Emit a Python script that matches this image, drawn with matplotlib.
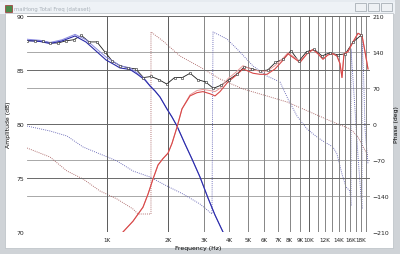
import matplotlib.pyplot as plt
from matplotlib.patches import Rectangle

W, H = 400, 255

# measured total response (markers), Hz / dB
total_freq = [400, 437, 478, 522, 570, 623, 681, 744, 813, 888, 970, 1060, 1158, 1265,
              1382, 1510, 1650, 1803, 1970, 2152, 2352, 2569, 2807, 3067, 3351, 3662,
              4001, 4371, 4776, 5218, 5701, 6229, 6806, 7436, 8125, 8877, 9699, 10597,
              11578, 12650, 13822, 15101, 16500, 18028]
total_db = [87.7, 87.7, 87.7, 87.5, 87.5, 87.7, 87.8, 88.2, 87.6, 87.6, 86.7, 85.8, 85.4, 85.2,
            85.1, 84.3, 84.4, 84.1, 83.7, 84.3, 84.3, 84.7, 84.1, 83.9, 83.3, 83.6,
            84.1, 84.6, 85.3, 85.1, 84.9, 85.0, 85.7, 86.0, 86.8, 85.8, 86.7, 86.9,
            86.3, 86.6, 86.4, 86.5, 87.6, 88.2]

# woofer amplitude
woofer_freq = [400, 464, 520, 596, 692, 784, 879, 985, 1092, 1155, 1295, 1402, 1536, 1627,
               1722, 1823, 1974, 2090, 2213, 2425, 2626, 2877, 3152, 3414, 3740, 4052]
woofer_db = [87.73, 87.64, 87.45, 87.69, 88.15, 87.59, 86.76, 85.93, 85.46, 85.19, 85.05, 84.63,
             84.07, 83.52, 83.06, 82.5, 81.39, 80.65, 79.81, 78.15, 76.76, 75.09, 73.15, 71.57,
             70.0, 68.43]
woofer2_db = [87.85, 87.75, 87.55, 87.8, 88.3, 87.8, 87.0, 86.2, 85.7, 85.4, 85.2, 84.75,
              84.15, 83.55, 83.06, 82.5, 81.39, 80.65, 79.81, 78.15, 76.76, 75.09, 73.15, 71.57,
              70.0, 68.43]

# tweeter amplitude
tweeter_freq = [1100, 1195, 1340, 1502, 1590, 1683, 1782, 1887, 1998, 2090, 2213, 2343, 2567,
                2780, 2977, 3225, 3414, 3614, 3959, 4338, 4699, 5265, 5704, 6178, 6767, 7330,
                7850, 8405, 9000, 9747, 10440, 11050, 11700, 12380, 13110, 13720, 14200,
                14530, 14870, 15560, 16480, 17440, 18250, 18890, 19550]
tweeter_db = [68.6, 70.0, 71.0, 72.3, 73.5, 74.9, 76.2, 76.8, 77.3, 78.2, 79.7, 81.4, 82.6,
              82.9, 83.0, 82.8, 82.6, 83.0, 83.9, 84.5, 85.1, 84.7, 84.6, 84.6, 85.1, 85.8,
              86.5, 86.1, 85.7, 86.5, 86.9, 86.5, 86.0, 86.4, 86.5, 86.3, 85.6,
              84.3, 86.5, 86.7, 87.6, 88.4, 88.2, 86.7, 85.1]
tweeter2_db = [68.6, 70.0, 71.0, 72.3, 73.5, 74.9, 76.2, 76.8, 77.3, 78.2, 79.7, 81.4, 82.7,
               83.1, 83.2, 83.1, 83.0, 83.3, 84.2, 84.8, 85.4, 85.0, 84.9, 84.9, 85.4, 86.0,
               86.6, 86.2, 85.8, 86.5, 86.9, 86.5, 86.0, 86.4, 86.5, 86.3, 85.6,
               84.3, 86.5, 86.7, 87.6, 88.4, 88.2, 86.7, 85.1]

# tweeter phase (deg)
tw_phase_freq = [400, 520, 631, 758, 920, 1117, 1340, 1419, 1645, 1645, 1887, 2290, 2877,
                 3614, 4699, 6178, 7760, 10090, 13110, 14700, 15920, 16500, 17440, 18250, 19550]
tw_phase = [-46.7, -64.2, -91.4, -106.9, -130.3, -145.8, -165.3, -175, -175, 178.9, 161.4,
            132.2, 110.8, 87.5, 68.1, 54.4, 42.8, 23.3, 3.9, -3.9, -9.7, -15, -25, -40, -62]

# woofer phase (deg)
wf_phase_freq = [400, 520, 631, 758, 920, 1117, 1340, 1627, 1974, 2370, 2877, 3299, 3337,
                 3914, 4541, 5265, 6178, 7164, 7850, 8697, 9747, 10930, 11700, 13110, 13720,
                 14530, 15210, 15920, 16100, 16100, 16850, 17440, 18250, 18250, 18600, 18890,
                 19550]
wf_phase = [-3.9, -13.6, -23.3, -44.7, -58.3, -71.9, -91.4, -103.1, -120.6, -136.1, -155.6,
            -175, 178.9, 165.3, 140, 112.8, 93.3, 81.7, 48.6, 15.6, -9.7, -25.3, -33.1, -44.7,
            -58.3, -97.2, -122.5, -130.3, -159.4, 145.8, 29.2, -62.2, -165.3, 165.3, 93.3,
            -9.7, -77.8]

grid_freqs = [1000, 2000, 3000, 4000, 5000, 6000, 7000, 8000, 9000, 10000, 11000, 12000,
              13000, 14000, 15000, 16000, 17000, 18000, 19000]
grid_labels = ["1K", "2K", "3K", "4K", "5K", "6K", "7K", "8K", "9K", "10K", "", "12K",
               "", "14K", "", "16K", "", "18K", ""]


def px_rect(fig, x, y, w, h, **kw):
    fig.patches.append(Rectangle((x / W, 1 - (y + h) / H), w / W, h / H,
                                 transform=fig.transFigure, zorder=-10, **kw))


fig = plt.figure(figsize=(W / 100, H / 100), dpi=100)
fig.patch.set_facecolor("#cfd3d7")

# window chrome
px_rect(fig, 0, 0, 395, 15, facecolor="#e6ebf0", edgecolor="none")
px_rect(fig, 0, 3, 395, 12, facecolor="#eef2f6", edgecolor="none")
px_rect(fig, 5, 14, 388, 235, facecolor="white", edgecolor="#b8bec4", lw=0.5)
px_rect(fig, 5, 6, 7, 7, facecolor="#4a8a4a", edgecolor="#a03030", lw=0.5)
for bx in (355, 368, 381):
    px_rect(fig, bx, 4, 11, 8, facecolor="#eef1f4", edgecolor="#9aa2aa", lw=0.5)
fig.text(14 / W, 1 - 10 / H, "maiHong Total Freq (dataset)", fontsize=3.8,
         color="#a8b0b8", va="center")

ax = fig.add_axes([27 / W, 1 - 233 / H, 343 / W, 216 / H])
ax2 = ax.twinx()
ax2.set_zorder(ax.get_zorder() - 1)
ax.patch.set_visible(False)
ax2.patch.set_facecolor("#c0c0c0")

ax.set_xscale("log")
ax.set_xlim(400, 20000)
ax.set_ylim(70, 90)
ax2.set_ylim(-210, 210)

ax.set_xticks(grid_freqs)
ax.set_xticklabels(grid_labels)
ax.xaxis.set_minor_locator(plt.NullLocator())
ax.set_yticks([70, 75, 80, 85, 90])
ax2.set_yticks([-210, -140, -70, 0, 70, 140, 210])

ax.grid(True, axis="x", color="#858585", lw=0.7)
for line, f in zip(ax.get_xgridlines(), grid_freqs):
    if f in (1000, 2000, 10000):
        line.set_color("#5a5a5a")
ax.grid(True, axis="y", color="#6a6a6a", lw=0.7)
ax2.grid(True, axis="y", color="#9a9a9a", lw=0.6)

for a in (ax, ax2):
    a.tick_params(length=0, labelsize=4.4, pad=2, colors="#222222")
    for s in a.spines.values():
        s.set_visible(False)
ax.tick_params(axis="x", labelsize=4.1, pad=3.5)

# phase curves (dotted)
ax2.plot(tw_phase_freq, tw_phase, color="#a86060", lw=0.65, ls=(0, (1, 1.3)))
ax2.plot(wf_phase_freq, wf_phase, color="#6262b4", lw=0.65, ls=(0, (1, 1.3)))

# amplitude curves
ax.plot(total_freq, total_db, color="#1a1a1a", lw=0.6)
ax.plot(woofer_freq, woofer2_db, color="#8a8ae0", lw=0.7)
ax.plot(woofer_freq, woofer_db, color="#2a2aa8", lw=0.8)
ax.plot(tweeter_freq, tweeter2_db, color="#e89a9a", lw=0.7)
ax.plot(tweeter_freq, tweeter_db, color="#d84848", lw=0.8)
ax.plot(total_freq, total_db, ls="none", marker="s", ms=2.1, mfc="white",
        mec="#2a2a2a", mew=0.4)

ax.set_xlabel("Frequency (Hz)", fontsize=4.4, labelpad=2.5)
ax.set_ylabel("Amplitude (dB)", fontsize=4.4, labelpad=4)
ax2.set_ylabel("Phase (deg)", fontsize=4.4, labelpad=3)

fig.savefig("out.png", dpi=100)
